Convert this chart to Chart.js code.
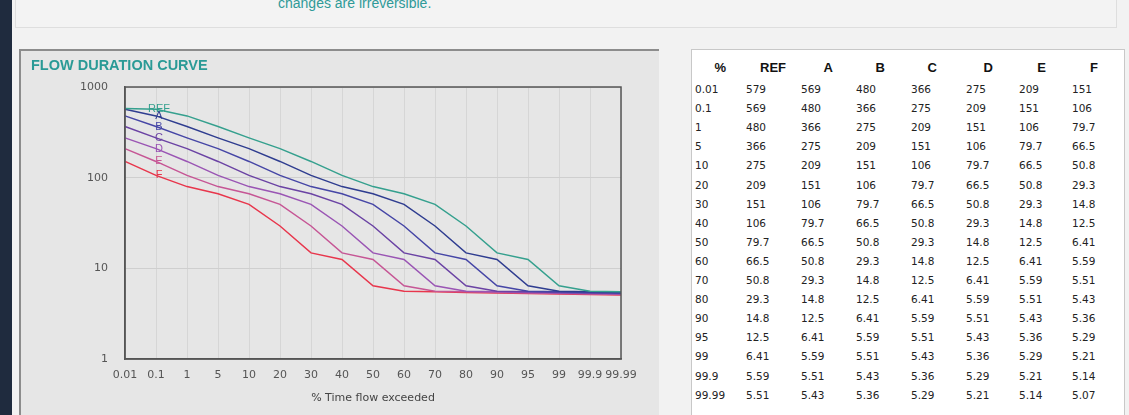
<!DOCTYPE html>
<html>
<head>
<meta charset="utf-8">
<script src="https://cdn.jsdelivr.net/npm/chart.js@4/dist/chart.umd.min.js"></script>
<style>
  html, body { margin: 0; padding: 0; }
  body { width: 1129px; height: 415px; background: #f2f2f2; position: relative; overflow: hidden;
         font-family: "Liberation Sans", Arial, sans-serif; }
  .navy { position: absolute; left: 0; top: 0; width: 12px; height: 415px; background: #1f2b3e; }
  .top-panel { position: absolute; left: 15px; top: -2px; width: 1100px; height: 28px;
               border: 1px solid #dedede; background: #f3f3f3; }
  .top-panel span { position: absolute; left: 262px; top: -4px; color: #2f9a98; font-size: 14px; }
  .chart-panel { position: absolute; left: 19px; top: 49px; width: 638px; height: 370px;
                 background: #e6e6e6; border-top: 2px solid #8c8c8c; border-left: 2px solid #8c8c8c; }
  .chart-title { position: absolute; left: 10px; top: 6px; color: #2a9a96; font-weight: bold; font-size: 14.5px; }
  #chart { position: absolute; left: 0; top: 0; }
  .table-panel { position: absolute; left: 691px; top: 49px; width: 432px; height: 370px;
                 background: #fff; border: 1px solid #c8c8c8; }
  .cell { position: absolute; font-family: "DejaVu Sans", sans-serif; font-size: 10.5px; color: #222;
          white-space: nowrap; line-height: 13px; }
  .hdr { font-family: "Liberation Sans", Arial, sans-serif; font-weight: bold; font-size: 13px; color: #111; }
</style>
</head>
<body>
<div class="navy"></div>
<div class="top-panel"><span>changes are irreversible.</span></div>
<div class="chart-panel">
  <canvas id="chart" width="638" height="366"></canvas>
  <div class="chart-title">FLOW DURATION CURVE</div>
</div>
<div class="table-panel" id="tbl"></div>
<script>
// % of time flow exceeded (category axis)
const percents = ['0.01', '0.1', '1', '5', '10', '20', '30', '40', '50', '60', '70', '80', '90', '95', '99', '99.9', '99.99'];
const seriesNames = ['REF', 'A', 'B', 'C', 'D', 'E', 'F'];
const refFlow = [579, 569, 480, 366, 275, 209, 151, 106, 79.7, 66.5, 50.8, 29.3, 14.8, 12.5, 6.41, 5.59, 5.51];
const aFlow = [569, 480, 366, 275, 209, 151, 106, 79.7, 66.5, 50.8, 29.3, 14.8, 12.5, 6.41, 5.59, 5.51, 5.43];
const bFlow = [480, 366, 275, 209, 151, 106, 79.7, 66.5, 50.8, 29.3, 14.8, 12.5, 6.41, 5.59, 5.51, 5.43, 5.36];
const cFlow = [366, 275, 209, 151, 106, 79.7, 66.5, 50.8, 29.3, 14.8, 12.5, 6.41, 5.59, 5.51, 5.43, 5.36, 5.29];
const dFlow = [275, 209, 151, 106, 79.7, 66.5, 50.8, 29.3, 14.8, 12.5, 6.41, 5.59, 5.51, 5.43, 5.36, 5.29, 5.21];
const eFlow = [209, 151, 106, 79.7, 66.5, 50.8, 29.3, 14.8, 12.5, 6.41, 5.59, 5.51, 5.43, 5.36, 5.29, 5.21, 5.14];
const fFlow = [151, 106, 79.7, 66.5, 50.8, 29.3, 14.8, 12.5, 6.41, 5.59, 5.51, 5.43, 5.36, 5.29, 5.21, 5.14, 5.07];
const yTicks = [1, 10, 100, 1000];

const allFlows = [refFlow, aFlow, bFlow, cFlow, dFlow, eFlow, fFlow];
const colors = ['#35a08e', '#2f3d90', '#4646a6', '#6b43a4', '#9a55b4', '#c65695', '#e8364c'];
const axisFont = { size: 11, family: '"DejaVu Sans", sans-serif' };

// series names written next to the 0.1 point of each curve
const seriesLabels = {
    id: 'seriesLabels',
    afterDatasetsDraw(chart) {
        const ctx = chart.ctx;
        ctx.save();
        ctx.font = '11px "Liberation Sans", Arial, sans-serif';
        ctx.textAlign = 'center';
        ctx.textBaseline = 'middle';
        chart.data.datasets.forEach((ds, i) => {
            const pt = chart.getDatasetMeta(i).data[1];
            ctx.fillStyle = ds.borderColor;
            ctx.fillText(ds.label, pt.x + 3, pt.y);
        });
        ctx.restore();
    }
};

// dark frame round the plot area
const plotFrame = {
    id: 'plotFrame',
    afterDraw(chart) {
        const a = chart.chartArea;
        const ctx = chart.ctx;
        ctx.save();
        ctx.strokeStyle = '#555';
        ctx.lineWidth = 1.5;
        ctx.strokeRect(a.left, a.top, a.right - a.left, a.bottom - a.top);
        ctx.restore();
    }
};

new Chart(document.getElementById('chart'), {
    type: 'line',
    data: {
        labels: percents,
        datasets: seriesNames.map((name, i) => ({
            label: name,
            data: allFlows[i],
            borderColor: colors[i],
            backgroundColor: colors[i],
            borderWidth: 1.5,
            pointRadius: 0,
            tension: 0,
            fill: false
        }))
    },
    options: {
        responsive: false,
        animation: false,
        layout: { padding: { left: 0, top: 36, right: 38, bottom: 10 } },
        plugins: {
            legend: { display: false },
            tooltip: { enabled: false }
        },
        scales: {
            x: {
                offset: false,
                grid: { color: '#d6d6d6', lineWidth: 1, drawTicks: false },
                border: { color: '#555', width: 1.5 },
                ticks: {
                    color: '#555',
                    font: axisFont,
                    maxRotation: 0,
                    autoSkip: false,
                    padding: 10
                },
                title: {
                    display: true,
                    text: '% Time flow exceeded',
                    color: '#444',
                    font: axisFont,
                    padding: { top: 4, bottom: 2 }
                },
                afterFit: s => { s.height = 48; }
            },
            y: {
                type: 'logarithmic',
                min: 1,
                max: 1000,
                afterBuildTicks: s => { s.ticks = yTicks.map(v => ({ value: v })); },
                grid: { color: '#cfcfcf', lineWidth: 1, drawTicks: false },
                border: { color: '#555', width: 1.5 },
                ticks: {
                    color: '#555',
                    font: axisFont,
                    padding: 17,
                    callback: v => String(v)
                },
                afterFit: s => { s.width = 104; }
            }
        }
    },
    plugins: [seriesLabels, plotFrame]
});

// data table on the right, built from the same arrays
const tbl = document.getElementById('tbl');
const headers = ['%'].concat(seriesNames);
const hdrRight = [34, 94, 141, 193, 245, 301, 354, 406];
const dataLeft = [3, 54, 109, 164, 219, 274, 327, 380];
const rowTop = 33, rowStep = 19.1;
headers.forEach((h, c) => {
    const d = document.createElement('div');
    d.className = 'cell hdr';
    d.textContent = h;
    d.style.top = '11px';
    d.style.right = (432 - hdrRight[c]) + 'px';
    tbl.appendChild(d);
});
percents.forEach((p, r) => {
    const row = [p].concat(allFlows.map(f => String(f[r])));
    row.forEach((v, c) => {
        const d = document.createElement('div');
        d.className = 'cell';
        d.textContent = v;
        d.style.left = dataLeft[c] + 'px';
        d.style.top = Math.round(rowTop + r * rowStep) + 'px';
        tbl.appendChild(d);
    });
});
</script>
</body>
</html>
